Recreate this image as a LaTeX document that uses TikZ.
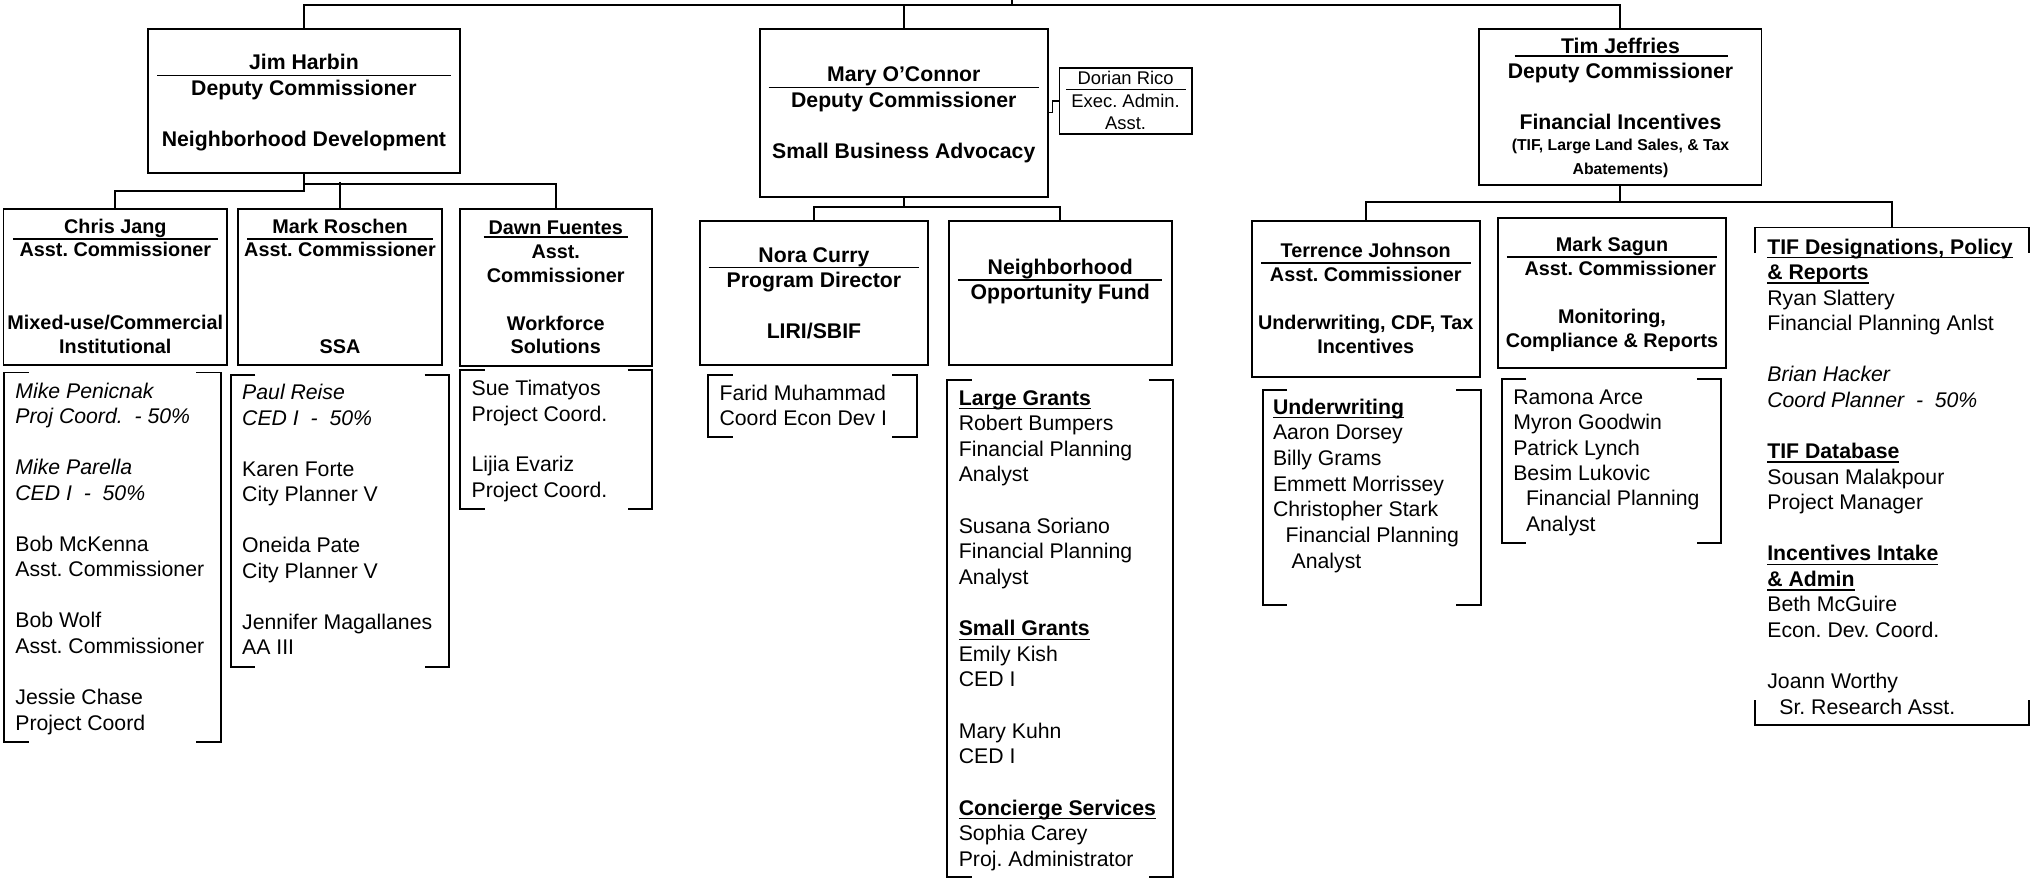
\documentclass[tikz,border=0pt]{standalone}
\usepackage{fontspec}
\setmainfont{Liberation Sans}
\frenchspacing
\newcommand\fsA{\fontsize{16.4}{19.7}\selectfont}
\newcommand\fsB{\fontsize{15.3}{18}\selectfont}
\newcommand\fsC{\fontsize{14.2}{17}\selectfont}
\newcommand\fsD{\fontsize{12.2}{14}\selectfont}
\newcommand\hdr[1]{\setbox0\hbox{\bfseries #1}\rlap{\rule[-3.3pt]{\wd0}{1.1pt}}\box0}
\newcommand\bracketbox[2][19]{%
  \draw[brk] ([xshift=#1pt]#2.north west) -- (#2.north west) -- (#2.south west) -- ([xshift=#1pt]#2.south west);
  \draw[brk] ([xshift=-#1pt]#2.north east) -- (#2.north east) -- (#2.south east) -- ([xshift=-#1pt]#2.south east);}
\tikzset{
  box/.style={draw, line width=1.5pt, inner sep=0pt, rectangle},
  area/.style={inner sep=0pt, rectangle},
  conn/.style={line width=1.5pt},
  brk/.style={line width=1.5pt},
  ulin/.style={line width=1.3pt},
  hA/.style={anchor=base, inner sep=0pt, font=\fsA\bfseries, yshift=-5.7pt},
  hB/.style={anchor=base, inner sep=0pt, font=\fsB\bfseries, yshift=-5.4pt},
  hC/.style={anchor=base, inner sep=0pt, font=\fsC, yshift=-5pt},
  hD/.style={anchor=base, inner sep=0pt, font=\fsD\bfseries, yshift=-4.3pt},
  li/.style={anchor=base west, inner sep=0pt, font=\fsA, yshift=-5.7pt},
}
\begin{document}
\begin{tikzpicture}[x=1pt,y=-1pt]
\fill[white] (0,0) rectangle (1568,678);
\useasboundingbox (0,0) rectangle (1568,678);

% ---------- boxes ----------
\node[box, minimum width=241.1pt, minimum height=111pt] (jim) at (234.75,77.9) {};
\node[box, minimum width=172.8pt, minimum height=120.6pt] (chris) at (89.1,221.7) {};
\node[box, minimum width=158.2pt, minimum height=120.6pt] (mark) at (262.6,221.7) {};
\node[box, minimum width=148.5pt, minimum height=121.3pt] (dawn) at (429.25,222.05) {};
\node[box, minimum width=222.6pt, minimum height=129.5pt] (mary) at (698.1,87.15) {};
\node[box, line width=1.2pt, minimum width=102.4pt, minimum height=51pt] (dorian) at (869.4,78) {};
\node[box, minimum width=176.6pt, minimum height=111.4pt] (nora) at (628.7,226.2) {};
\node[box, minimum width=172.5pt, minimum height=111.4pt] (nof) at (818.95,226.2) {};
\node[box, minimum width=217.9pt, minimum height=120.5pt] (tim) at (1251.65,82.65) {};
\node[box, minimum width=176.2pt, minimum height=120.5pt] (terr) at (1054.9,230.75) {};
\node[box, minimum width=176.3pt, minimum height=115.4pt] (sagun) at (1245.15,226.3) {};
\node[area, minimum width=210.8pt, minimum height=383.6pt] (tif) at (1461.4,367.7) {};

% ---------- bracket areas ----------
\node[area, minimum width=166.9pt, minimum height=285pt] (chrisB) at (86.75,430.4) {};
\node[area, minimum width=168.2pt, minimum height=225.3pt] (markB) at (262.6,402.35) {};
\node[area, minimum width=147.8pt, minimum height=106.4pt] (dawnB) at (429.6,339.5) {};
\node[area, minimum width=160.6pt, minimum height=47.6pt] (faridB) at (627.6,313.5) {};
\node[area, minimum width=174.4pt, minimum height=383.2pt] (nofB) at (818.8,485.6) {};
\node[area, minimum width=168.4pt, minimum height=166pt] (terrB) at (1059.6,384.3) {};
\node[area, minimum width=169.2pt, minimum height=126.4pt] (sagunB) at (1244.8,356) {};

\bracketbox{chrisB}
\bracketbox{markB}
\bracketbox{dawnB}
\bracketbox{faridB}
\bracketbox{nofB}
\bracketbox{terrB}
\bracketbox{sagunB}
\draw[brk] ([yshift=-19.8pt]tif.north west) -- (tif.north west) -- (tif.north east) -- ([yshift=-19.8pt]tif.north east);
\draw[brk] ([yshift=18.8pt]tif.south west) -- (tif.south west) -- (tif.south east) -- ([yshift=18.8pt]tif.south east);

% ---------- connectors ----------
\coordinate (cm) at (781.8,0);
\draw[conn] (jim.north) -- (jim.north |- 0,3.9) -- (tim.north |- 0,3.9) -- (tim.north);
\draw[conn] (mary.north) -- (mary.north |- 0,3.9);
\draw[conn] (cm) -- (cm |- 0,3.9);
\draw[conn] (jim.south) -- (jim.south |- 0,147.3) -| (chris.north);
\draw[conn] (jim.south |- 0,142.1) -| (dawn.north);
\draw[conn] (mark.north) -- (mark.north |- 0,140.3);
\draw[conn] (mary.south) -- (mary.south |- 0,159.7) -| (nora.north);
\draw[conn] (mary.south |- 0,159.7) -| (nof.north);
\draw[line width=1.1pt] (mary.east |- 0,87) -| ([xshift=2.8pt]mary.east |- dorian.west) -- (dorian.west);
\draw[conn] (tim.south) -- (tim.south |- 0,156.3) -| (terr.north);
\draw[conn] (tim.south |- 0,156.3) -| (tif.north);

% ---------- Jim Harbin ----------
\node[hA] (jh1) at (234.75,48.1) {Jim Harbin};
\draw[ulin] (121.3,58.2) -- (348.4,58.2);
\node[hA] (jh2) at (234.75,68.2) {Deputy Commissioner};
\node[hA] (jh3) at (234.75,107.1) {Neighborhood Development};

\node[hB] (ch1) at (89.1,175) {Chris Jang};
\draw[ulin] (10,184.4) -- (168.5,184.4);
\node[hB] (ch2) at (89.1,193) {Asst. Commissioner};
\node[hB] (ch3) at (89.1,249) {Mixed-use/Commercial};
\node[hB] (ch4) at (89.1,268) {Institutional};

\node[hB] (mr1) at (262.6,175) {Mark Roschen};
\draw[ulin] (191,184.4) -- (334.5,184.4);
\node[hB] (mr2) at (262.6,193) {Asst. Commissioner};
\node[hB] (mr3) at (262.6,268) {SSA};

\node[hB] (df1) at (429.25,175.8) {Dawn Fuentes};
\draw[ulin] (373.5,183.3) -- (485,183.3);
\node[hB] (df2) at (429.25,194.4) {Asst.};
\node[hB] (df3) at (429.25,212.7) {Commissioner};
\node[hB] (df4) at (429.25,249.8) {Workforce};
\node[hB] (df5) at (429.25,268) {Solutions};

% ---------- Mary O'Connor ----------
\node[hA] (mo1) at (698.1,57.2) {Mary O’Connor};
\draw[ulin] (593.7,67.5) -- (802.5,67.5);
\node[hA] (mo2) at (698.1,77.2) {Deputy Commissioner};
\node[hA] (mo3) at (698.1,116.6) {Small Business Advocacy};

\node[hC] (dr1) at (869.4,60.3) {Dorian Rico};
\draw[line width=1pt] (823.7,69) -- (916.2,69);
\node[hC] (dr2) at (869.4,77.8) {Exec. Admin.};
\node[hC] (dr3) at (869.4,95.3) {Asst.};

\node[hA] (nc1) at (628.7,197) {Nora Curry};
\draw[ulin] (547.3,206.5) -- (709.5,206.5);
\node[hA] (nc2) at (628.7,216.3) {Program Director};
\node[hA] (nc3) at (628.7,255.7) {LIRI/SBIF};

\node[hA] (nf1) at (818.95,206.5) {Neighborhood};
\draw[ulin] (739.9,216.3) -- (897.7,216.3);
\node[hA] (nf2) at (818.95,225.8) {Opportunity Fund};

% ---------- Tim Jeffries ----------
\node[hA] (tj1) at (1251.65,35.5) {Tim Jeffries};
\draw[ulin] (1169.9,43.3) -- (1334.6,43.3);
\node[hA] (tj2) at (1251.65,54.8) {Deputy Commissioner};
\node[hA] (tj3) at (1251.65,94.5) {Financial Incentives};
\node[hD] (tj4) at (1251.65,112) {(TIF, Large Land Sales, \& Tax};
\node[hD] (tj5) at (1251.65,130.5) {Abatements)};

\node[hB] (te1) at (1054.9,193.6) {Terrence Johnson};
\draw[ulin] (974.2,203.2) -- (1136,203.2);
\node[hB] (te2) at (1054.9,211.9) {Asst. Commissioner};
\node[hB] (te3) at (1054.9,249) {Underwriting, CDF, Tax};
\node[hB] (te4) at (1054.9,267.8) {Incentives};

\node[hB] (ms1) at (1245.15,189.2) {Mark Sagun};
\draw[ulin] (1164,198.5) -- (1326,198.5);
\node[hB] (ms2) at (1251.6,207.5) {Asst. Commissioner};
\node[hB] (ms3) at (1245.15,244.6) {Monitoring,};
\node[hB] (ms4) at (1245.15,263.2) {Compliance \& Reports};

% ---------- staff lists ----------
\foreach \k/\t in {0/{\textit{Mike Penicnak}},1/{\textit{Proj Coord.\ \ - 50\%}},
  3/{\textit{Mike Parella}},4/{\textit{CED I\ \ -\ \ 50\%}},
  6/{Bob McKenna},7/{Asst. Commissioner},9/{Bob Wolf},10/{Asst. Commissioner},
  12/{Jessie Chase},13/{Project Coord}}
  \node[li] (cl\k) at (11.7,{301.8+\k*19.72}) {\t};

\foreach \k/\t in {0/{\textit{Paul Reise}},1/{\textit{CED I\ \ -\ \ 50\%}},
  3/{Karen Forte},4/{City Planner V},6/{Oneida Pate},7/{City Planner V},
  9/{Jennifer Magallanes},10/{AA III}}
  \node[li] (ml\k) at (186.9,{303+\k*19.7}) {\t};

\foreach \k/\t in {0/{Sue Timatyos},1/{Project Coord.},3/{Lijia Evariz},4/{Project Coord.}}
  \node[li] (dl\k) at (364.1,{300+\k*19.6}) {\t};

\foreach \k/\t in {0/{Farid Muhammad},1/{Coord Econ Dev I}}
  \node[li] (fl\k) at (555.6,{303.8+\k*19.4}) {\t};

\foreach \k/\t in {0/{\hdr{Large Grants}},1/{Robert Bumpers},2/{Financial Planning},3/{Analyst},
  5/{Susana Soriano},6/{Financial Planning},7/{Analyst},
  9/{\hdr{Small Grants}},10/{Emily Kish},11/{CED I},13/{Mary Kuhn},14/{CED I},
  16/{\hdr{Concierge Services}},17/{Sophia Carey},18/{Proj. Administrator}}
  \node[li] (nl\k) at (740.4,{307.2+\k*19.79}) {\t};

\foreach \k/\t in {0/{\hdr{Underwriting}},1/{Aaron Dorsey},2/{Billy Grams},3/{Emmett Morrissey},
  4/{Christopher Stark},5/{\hspace{9.7pt}Financial Planning},6/{\hspace{14.4pt}Analyst}}
  \node[li] (tl\k) at (983.1,{314.1+\k*19.83}) {\t};

\foreach \k/\t in {0/{Ramona Arce},1/{Myron Goodwin},2/{Patrick Lynch},3/{Besim Lukovic},
  4/{\hspace{9.8pt}Financial Planning},5/{\hspace{9.8pt}Analyst}}
  \node[li] (sl\k) at (1168.7,{306.4+\k*19.68}) {\t};

\foreach \k/\t in {0/{\hdr{TIF Designations, Policy}},1/{\hdr{\&~Reports}},2/{Ryan Slattery},
  3/{Financial Planning Anlst},5/{\textit{Brian Hacker}},6/{\textit{Coord Planner\ \ -\ \ 50\%}},
  8/{\hdr{TIF Database}},9/{Sousan Malakpour},10/{Project Manager},
  12/{\hdr{Incentives Intake}},13/{\hdr{\&~Admin}},14/{Beth McGuire},15/{Econ. Dev. Coord.},
  17/{Joann Worthy},18/{\hspace{9.3pt}Sr. Research Asst.}}
  \node[li] (il\k) at (1364.9,{190.5+\k*19.74}) {\t};
\end{tikzpicture}
\end{document}
